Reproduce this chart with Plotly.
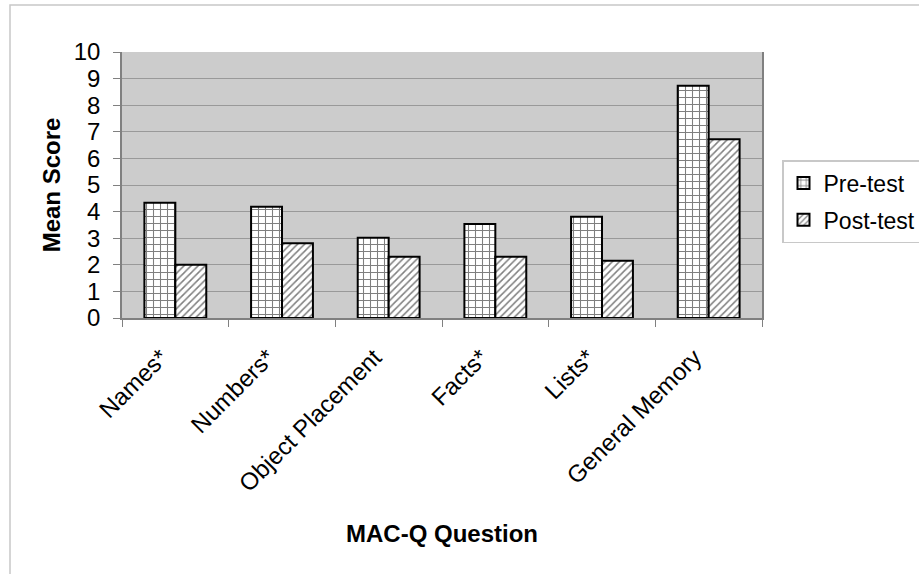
import plotly.graph_objects as go

categories = ["Names*", "Numbers*", "Object Placement", "Facts*", "Lists*", "General Memory"]
pre_test = [4.33, 4.18, 3.02, 3.53, 3.81, 8.73]
post_test = [2.0, 2.81, 2.3, 2.3, 2.15, 6.72]
y_ticks = list(range(0, 11))

W, H = 919, 574
L, R, T, B = 122, 157, 52, 256
pw, ph = W - L - R, H - T - B

def px_x(p):
    return (p - L) / pw

def px_y(p):
    return (H - B - p) / ph

font = "Liberation Sans, Arial, sans-serif"

fig = go.Figure()
fig.add_trace(go.Bar(
    x=categories, y=pre_test, name="Pre-test", legendgroup="a",
    marker=dict(color="white", line=dict(color="black", width=2),
                pattern=dict(shape="+", fgcolor="black", bgcolor="white", size=7, solidity=0.28)),
))
fig.add_trace(go.Bar(
    x=categories, y=post_test, name="Post-test", legendgroup="b",
    marker=dict(color="white", line=dict(color="black", width=2),
                pattern=dict(shape="/", fgcolor="black", bgcolor="white", size=5, solidity=0.3)),
))

fig.update_layout(
    width=W, height=H,
    margin=dict(l=L, r=R, t=T, b=B, autoexpand=False),
    paper_bgcolor="white", plot_bgcolor="#cccccc",
    barmode="group", bargap=0.42, bargroupgap=0,
    font=dict(family=font, color="black", size=22),
    showlegend=True,
    legend=dict(x=px_x(782), y=px_y(160), xanchor="left", yanchor="top",
                bordercolor="#c8c8c8", borderwidth=1.5, bgcolor="white",
                font=dict(size=23), traceorder="grouped", tracegroupgap=4,
                itemwidth=30),
    xaxis=dict(
        tickangle=-45, tickson="boundaries", ticks="outside", ticklen=7,
        tickcolor="#808080", showline=True, linecolor="#808080", linewidth=1.5,
        tickfont=dict(size=24), showgrid=False,
        tickvals=categories, ticktext=[c + "\u00a0\u00a0\u00a0" for c in categories],
        title=dict(text="<b>MAC-Q Question</b>", font=dict(size=24), standoff=30),
    ),
    yaxis=dict(
        range=[0, 10], tickvals=y_ticks, ticks="outside", ticklen=7,
        tickcolor="#808080", showline=True, linecolor="#808080", linewidth=1.5,
        mirror=True, showgrid=True, gridcolor="#999999", gridwidth=1.2,
        tickfont=dict(size=24), zeroline=False, ticklabelstandoff=8,
        title=dict(text="<b>Mean Score</b>", font=dict(size=24), standoff=6),
    ),
    shapes=[dict(type="rect", xref="paper", yref="paper",
                 x0=px_x(10), x1=px_x(930), y0=px_y(590), y1=px_y(5),
                 line=dict(color="#c8c8c8", width=1.5), layer="below")],
)

fig.write_html("out.html", config={"displayModeBar": False},
               post_script="document.body.style.margin='0';")
